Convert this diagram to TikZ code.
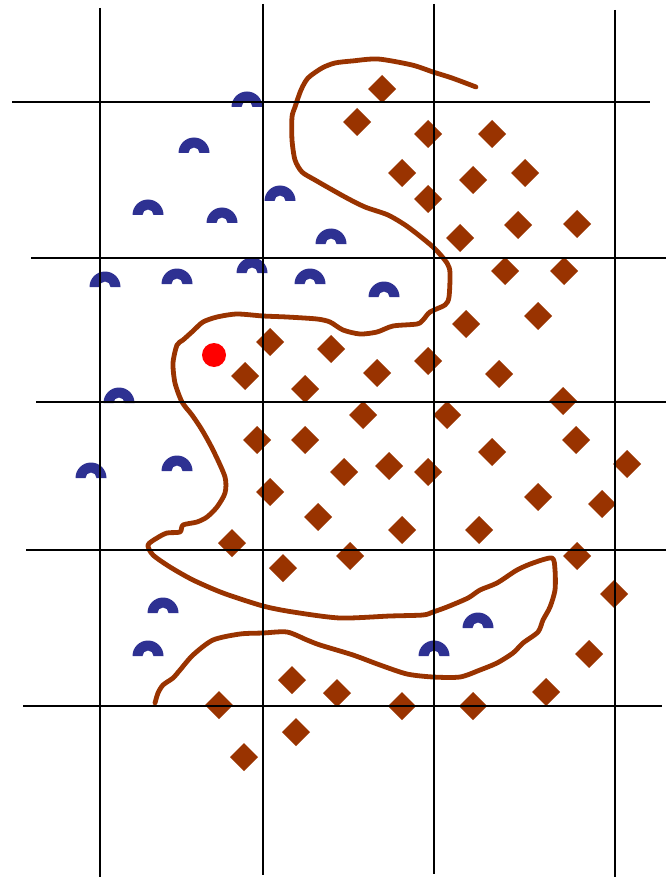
\documentclass[tikz,border=0pt]{standalone}
\definecolor{brn}{RGB}{153,51,0}
\definecolor{blu}{RGB}{46,49,146}
\tikzset{
  gridline/.style={black, line width=1.6pt},
  contour/.style={brn, line width=4.8pt, line join=round, line cap=round},
  diam/.style={fill=brn},
  archfill/.style={fill=blu},
  redspot/.style={fill=red}
}
\begin{document}
\begin{tikzpicture}[x=1pt,y=1pt,yscale=-1]
\useasboundingbox (0,0) rectangle (666,877);
% contour curve
\draw[contour] plot[smooth, tension=0.45] coordinates {
(476,87) (452,78) (433,72) (412,65) (378,59) (352,61) (335,63) (322,68) (308,78) (301,90) (295,107) (292,117) (292,140) (295,160) (302,172) (315,180) (345,197) (365,207) (388,215) (408,227) (433,247) (447,263) (450,273) (449,297) (445,305) (430,312) (423,320) (417,324) (393,326) (377,332) (360,334) (343,330) (330,322) (317,319) (287,317) (263,316) (237,314) (217,317) (203,322) (193,331) (183,340) (177,345) (173,363) (175,383) (182,402) (192,415) (202,430) (213,450) (225,477) (225,493) (217,507) (207,517) (197,522) (183,525) (180,532) (167,533) (157,538) (148,545) (153,555) (170,567) (193,580) (223,593) (263,606) (293,612) (340,618) (390,616) (423,615) (433,612) (447,607) (468,598) (480,590) (497,583) (517,570) (533,563) (552,558) (555,570) (555,590) (550,607) (543,620) (538,632) (523,643) (513,653) (497,663) (480,670) (460,677) (433,677) (407,674) (380,665) (353,655) (320,645) (307,640) (287,632) (263,633) (240,634) (213,640) (193,655) (180,670) (173,678) (163,685) (158,693) (155,703)};
% diamonds
\foreach \x/\y in {382/89,357/122,428/134,492/134,402/173,473/180,525/173,428/199,460/238,518/225,577/224,505/271,564/271,
538/316,466/324,331/349,377/373,428/361,499/374,563/401,363/415,447/415,576/440,492/452,627/464,344/472,389/466,428/472,538/497,602/504,402/530,479/530,350/556,577/556,614/594,
270/342,245/376,305/389,257/440,305/440,270/492,318/517,232/543,283/568,
292/680,337/693,219/705,296/732,244/757,589/654,402/706,473/706,546/692}
  \fill[diam] (\x-14,\y) -- (\x,\y-14) -- (\x+14,\y) -- (\x,\y+14) -- cycle;
% arches
\foreach \x/\y in {247/107,194/153,148/215,222/223,280/201,331/244,105/287,177/284,252/273,310/284,384/297,119/403,91/478,177/471,163/613,148/656,434/656,478/628}
  \fill[archfill] (\x-15.5,\y) arc[start angle=180, end angle=360, radius=15.5] -- (\x+5.5,\y) arc[start angle=360, end angle=180, radius=5.5] -- cycle;
% red dot
\fill[redspot] (214,355) circle[radius=12];
% grid
\draw[gridline] (100,8) -- (100,877);
\draw[gridline] (263,4) -- (263,875);
\draw[gridline] (434,4) -- (434,874);
\draw[gridline] (615,10) -- (615,877);
\draw[gridline] (12,102) -- (650,102);
\draw[gridline] (31,258) -- (666,258);
\draw[gridline] (36,402) -- (666,402);
\draw[gridline] (26,550) -- (666,550);
\draw[gridline] (23,706) -- (662,706);
\end{tikzpicture}
\end{document}
